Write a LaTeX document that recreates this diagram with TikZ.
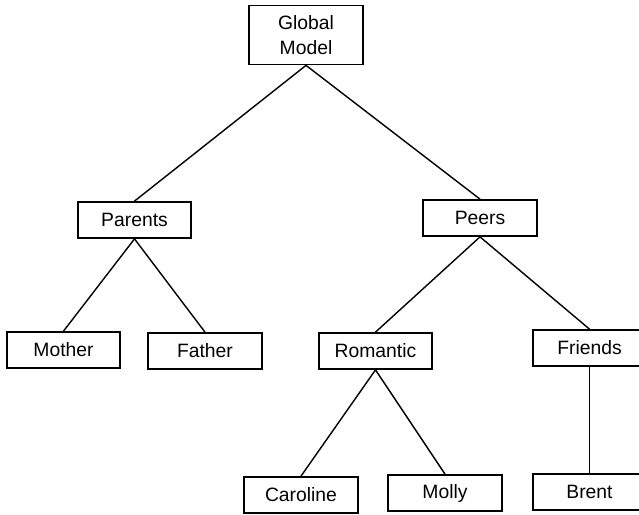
\documentclass[tikz,border=0pt]{standalone}
\usepackage{fontspec}
\setmainfont{Liberation Sans}
\usetikzlibrary{positioning}

\begin{document}
\begin{tikzpicture}[
    x=0.02cm, y=-0.02cm,
    person node/.style={rectangle, draw=black, line width=1pt, minimum width=2.27cm, minimum height=0.72cm, font=\fontsize{11}{14}\selectfont, inner sep=0pt},
    tie/.style={line width=0.8pt}
]
  \useasboundingbox (0,0) rectangle (639,514);
  \clip (0,0) rectangle (639,514);

  \node[person node, minimum height=1.18cm, align=center] (global) at (306,35) {Global\\Model};
  \node[person node] (parents) at (134.5,220) {Parents};
  \node[person node] (peers) at (480,218) {Peers};
  \node[person node] (mother) at (63.5,350) {Mother};
  \node[person node] (father) at (205,351) {Father};
  \node[person node] (romantic) at (375.5,351) {Romantic};
  \node[person node] (friends) at (589.5,348) {Friends};
  \node[person node] (caroline) at (301,495) {Caroline};
  \node[person node] (molly) at (445,493) {Molly};
  \node[person node] (brent) at (589.5,492) {Brent};

  \draw[tie] (global.south) -- (parents.north);
  \draw[tie] (global.south) -- (peers.north);
  \draw[tie] (parents.south) -- (mother.north);
  \draw[tie] (parents.south) -- (father.north);
  \draw[tie] (peers.south) -- (romantic.north);
  \draw[tie] (peers.south) -- (friends.north);
  \draw[tie] (romantic.south) -- (caroline.north);
  \draw[tie] (romantic.south) -- (molly.north);
  \draw[tie] (friends.south) -- (brent.north);
\end{tikzpicture}
\end{document}
